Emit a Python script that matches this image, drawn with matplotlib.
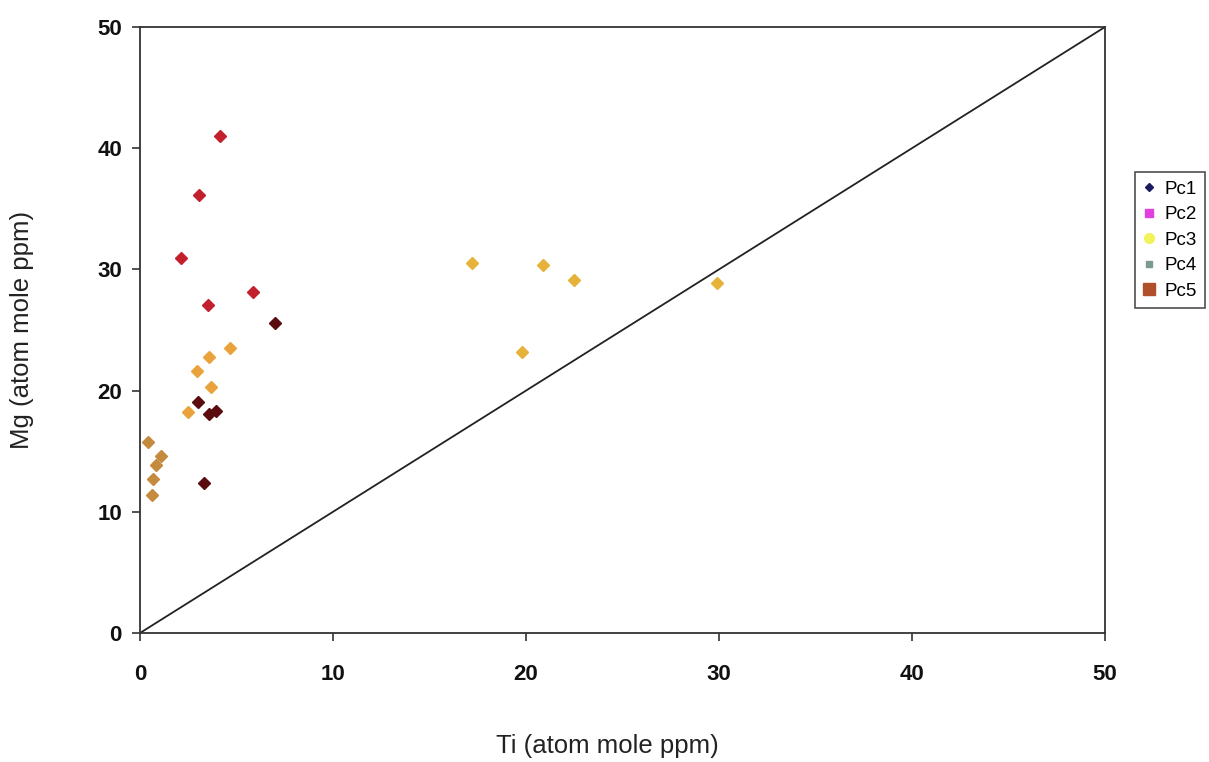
import matplotlib
matplotlib.use("Agg")
import matplotlib.pyplot as plt
from matplotlib.lines import Line2D

plt.rcParams['font.family'] = ['Liberation Sans', 'DejaVu Sans']

series_names = ["Pc1", "Pc2", "Pc3", "Pc4", "Pc5"]

# Observed point groups (Ti, Mg)
pc1_ti = [7.0, 3.0, 3.58, 3.94, 3.32]
pc1_mg = [25.6, 19.1, 18.1, 18.3, 12.4]

pc2_ti = [4.15, 3.06, 2.12, 5.85, 3.52]
pc2_mg = [41.0, 36.1, 30.9, 28.1, 27.1]

pc3_ti = [17.2, 20.9, 22.5, 29.9, 19.8]
pc3_mg = [30.5, 30.4, 29.1, 28.9, 23.2]

pc4_ti = [4.66, 3.58, 2.95, 3.68, 2.49]
pc4_mg = [23.5, 22.8, 21.6, 20.3, 18.2]

pc5_ti = [0.41, 1.09, 0.83, 0.67, 0.62]
pc5_mg = [15.8, 14.6, 13.9, 12.7, 11.4]

line_x = [0, 50]
line_y = [0, 50]

ticks = [0, 10, 20, 30, 40, 50]

# colours as they appear on the plot
plot_colors = ["#5a0c0e", "#c2202c", "#e6b23a", "#e9a23c", "#c48a3e"]
# colours as they appear in the legend
legend_colors = ["#1a1a5e", "#e040e0", "#f2f25a", "#7a9a92", "#b0502a"]
legend_markers = ["D", "s", "o", "s", "s"]
legend_sizes = [4, 6, 7, 4.5, 8]

fig = plt.figure(figsize=(12.09, 7.62), dpi=100)
ax = fig.add_axes([140/1209, 1-633/762, (1105-140)/1209, (633-27)/762])

data = [(pc1_ti, pc1_mg), (pc2_ti, pc2_mg), (pc3_ti, pc3_mg), (pc4_ti, pc4_mg), (pc5_ti, pc5_mg)]
for (xs, ys), c in zip(data, plot_colors):
    ax.plot(xs, ys, linestyle='none', marker='D', markersize=6, color=c,
            markeredgecolor=c, zorder=3)

ax.plot(line_x, line_y, color='#222222', linewidth=1.3, zorder=2)

ax.set_xlim(0, 50)
ax.set_ylim(0, 50)
ax.set_xticks(ticks)
ax.set_yticks(ticks)
ax.set_xticklabels([str(t) for t in ticks], fontsize=16, fontweight='bold', color='#111111')
ax.set_yticklabels([str(t) for t in ticks], fontsize=16, fontweight='bold', color='#111111')
ax.tick_params(axis='both', direction='out', length=6, width=1.2, color='#333333')
ax.tick_params(axis='x', pad=16)
ax.tick_params(axis='y', pad=7)
for s in ax.spines.values():
    s.set_color('#333333')
    s.set_linewidth(1.3)

fig.text(607/1209, 1-746/762, "Ti (atom mole ppm)", ha='center', va='center', fontsize=18.5,
         color='#222222')
fig.text(22/1209, 1-330/762, "Mg (atom mole ppm)", ha='center', va='center', fontsize=18.5,
         rotation=90, color='#222222')

handles = [Line2D([], [], linestyle='none', marker=m, markersize=ms, color=c, markeredgecolor=c)
           for m, ms, c in zip(legend_markers, legend_sizes, legend_colors)]
leg = fig.legend(handles, series_names, loc='upper left',
                 bbox_to_anchor=(1135/1209, 1-172/762), fontsize=13.5, frameon=True,
                 fancybox=False, edgecolor='#222222', handlelength=0.6, handletextpad=0.5,
                 labelspacing=0.45, borderpad=0.45, borderaxespad=0)
leg.get_frame().set_linewidth(1.2)

fig.savefig("out.png", dpi=100)
